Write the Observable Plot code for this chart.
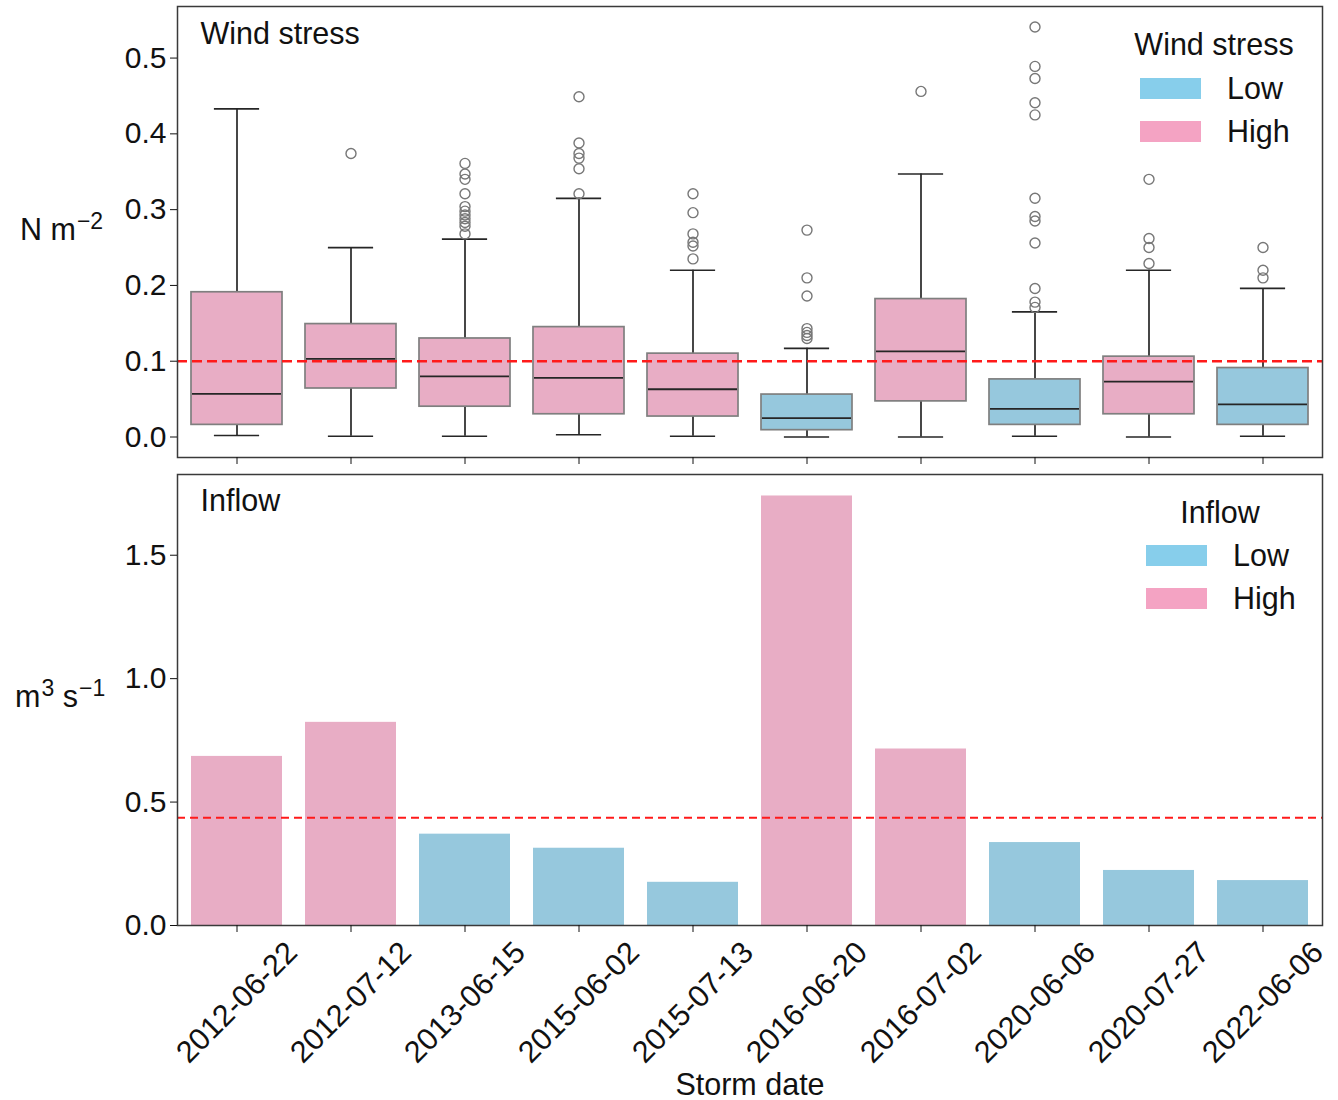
<!DOCTYPE html>
<html>
<head>
<meta charset="utf-8">
<script src="https://cdn.jsdelivr.net/npm/d3@7"></script>
<script src="https://cdn.jsdelivr.net/npm/@observablehq/plot@0.6"></script>
<style>
  body { margin: 0; background: #fff; }
  #chart { width: 1338px; height: 1100px; font-family: "Liberation Sans", Arial, sans-serif; }
  #chart svg { display: block; }
</style>
</head>
<body>
<div id="chart"></div>
<script>
// Storm events (categorical x axis)
const stormDates = ["2012-06-22", "2012-07-12", "2013-06-15", "2015-06-02", "2015-07-13",
                    "2016-06-20", "2016-07-02", "2020-06-06", "2020-07-27", "2022-06-06"];

// Wind stress box statistics per storm (N m^-2)
const windLevel       = ["High", "High", "High", "High", "High", "Low", "High", "Low", "High", "Low"];
const windLowWhisker  = [0.002, 0.001, 0.001, 0.003, 0.001, 0.000, 0.000, 0.001, 0.000, 0.001];
const windQ1          = [0.016, 0.064, 0.040, 0.030, 0.027, 0.009, 0.047, 0.016, 0.030, 0.016];
const windMedian      = [0.057, 0.103, 0.080, 0.078, 0.063, 0.025, 0.113, 0.037, 0.073, 0.043];
const windQ3          = [0.191, 0.149, 0.130, 0.145, 0.110, 0.056, 0.182, 0.076, 0.106, 0.091];
const windHighWhisker = [0.433, 0.250, 0.261, 0.315, 0.220, 0.117, 0.347, 0.165, 0.220, 0.196];
const windOutliers = [
  [],
  [0.374],
  [0.361, 0.347, 0.340, 0.321, 0.304, 0.298, 0.293, 0.288, 0.283, 0.278, 0.268],
  [0.449, 0.388, 0.374, 0.368, 0.354, 0.321],
  [0.321, 0.296, 0.268, 0.257, 0.252, 0.235],
  [0.273, 0.210, 0.186, 0.143, 0.138, 0.134, 0.130],
  [0.456],
  [0.541, 0.489, 0.473, 0.441, 0.425, 0.315, 0.291, 0.285, 0.256, 0.196, 0.178, 0.171],
  [0.340, 0.262, 0.250, 0.229],
  [0.250, 0.220, 0.210]
];
const windThreshold = 0.1;

// Mean inflow per storm (m^3 s^-1)
const inflowValues = [0.685, 0.823, 0.370, 0.313, 0.175, 1.740, 0.715, 0.336, 0.223, 0.182];
const inflowLevel  = ["High", "High", "Low", "Low", "Low", "High", "High", "Low", "Low", "Low"];
const inflowThreshold = 0.437;

// Classes and colours
const levels = ["Low", "High"];
const legendColors = ["#87CEEB", "#F4A3C3"];
const fillColors = ["#96C8DD", "#E8ADC5"];

// Tick values
const windTicks = [0, 0.1, 0.2, 0.3, 0.4, 0.5];
const inflowTicks = [0, 0.5, 1.0, 1.5];

// ---- tables built from the arrays above ----
const boxes = stormDates.map((date, i) => ({
  date, level: windLevel[i], lo: windLowWhisker[i], q1: windQ1[i],
  med: windMedian[i], q3: windQ3[i], hi: windHighWhisker[i]
}));
const outliers = stormDates.flatMap((date, i) => windOutliers[i].map(v => ({date, v})));
const inflow = stormDates.map((date, i) => ({date, v: inflowValues[i], level: inflowLevel[i]}));

const FONT = '"Liberation Sans", Arial, sans-serif';
const TEXT_SIZE = 30.5;
const SUP_SIZE = 23;
const W = 1338, ML = 177, MR = 16;
const xScale = {type: "band", domain: stormDates, paddingInner: 0.2, paddingOuter: 0.1};
const bandwidth = (W - ML - MR) / stormDates.length * 0.8;
const capInset = bandwidth / 4;
const colorScale = {domain: levels, range: fillColors};

// matplotlib-like 5% margins around the wind data
const windMax = d3.max([...windHighWhisker, ...outliers.map(d => d.v)]);
const windMin = d3.min(windLowWhisker);
const windPad = (windMax - windMin) * 0.05;

const axisStyle = {fontFamily: FONT, fontSize: "30px", color: "#111", background: "transparent", overflow: "visible"};
const lineColor = "#262626";

const topPlot = Plot.plot({
  width: W, height: 470,
  marginLeft: ML, marginRight: MR, marginTop: 6, marginBottom: 13,
  style: axisStyle,
  x: xScale,
  y: {domain: [windMin - windPad, windMax + windPad]},
  color: colorScale,
  marks: [
    Plot.ruleX(boxes, {x: "date", y1: "q3", y2: "hi", stroke: lineColor, strokeWidth: 1.7}),
    Plot.ruleX(boxes, {x: "date", y1: "lo", y2: "q1", stroke: lineColor, strokeWidth: 1.7}),
    Plot.tickY(boxes, {x: "date", y: "hi", insetLeft: capInset, insetRight: capInset, stroke: lineColor, strokeWidth: 1.7}),
    Plot.tickY(boxes, {x: "date", y: "lo", insetLeft: capInset, insetRight: capInset, stroke: lineColor, strokeWidth: 1.7}),
    Plot.barY(boxes, {x: "date", y1: "q1", y2: "q3", fill: "level", stroke: "#7f7f7f", strokeWidth: 1.7}),
    Plot.tickY(boxes, {x: "date", y: "med", stroke: lineColor, strokeWidth: 1.8, insetLeft: 1, insetRight: 1}),
    Plot.dot(outliers, {x: "date", y: "v", r: 5, stroke: "#777", strokeWidth: 1.4, fill: "none"}),
    Plot.ruleY([windThreshold], {stroke: "#ff1a1a", strokeWidth: 2.5, strokeDasharray: "10,5"}),
    Plot.frame({stroke: "#3a3a3a", strokeWidth: 1.5}),
    Plot.axisY({ticks: windTicks, tickFormat: d3.format(".1f"), tickSize: 7, tickPadding: 4, label: null}),
    Plot.axisX({tickSize: 7, tickFormat: () => "", label: null}),
    Plot.text(["Wind stress"], {frameAnchor: "top-left", dx: 23, dy: 16, lineAnchor: "top", textAnchor: "start", fontSize: TEXT_SIZE})
  ]
});

const inflowMax = d3.max(inflowValues);
const bottomPlot = Plot.plot({
  width: W, height: 630,
  marginLeft: ML, marginRight: MR, marginTop: 4, marginBottom: 175,
  style: axisStyle,
  x: xScale,
  y: {domain: [0, inflowMax * 1.05]},
  color: colorScale,
  marks: [
    Plot.barY(inflow, {x: "date", y: "v", fill: "level"}),
    Plot.ruleY([inflowThreshold], {stroke: "#ff1a1a", strokeWidth: 2, strokeDasharray: "8,5"}),
    Plot.frame({stroke: "#3a3a3a", strokeWidth: 1.5}),
    Plot.axisY({ticks: inflowTicks, tickFormat: d3.format(".1f"), tickSize: 7, tickPadding: 4, label: null}),
    Plot.axisX({tickSize: 7, tickFormat: () => "", label: null}),
    Plot.text(stormDates, {x: d => d, frameAnchor: "bottom", rotate: -45, textAnchor: "middle", lineAnchor: "middle", dy: 77, fontSize: TEXT_SIZE}),
    Plot.text(["Storm date"], {frameAnchor: "bottom", dy: 148, lineAnchor: "top", fontSize: TEXT_SIZE}),
    Plot.text(["Inflow"], {frameAnchor: "top-left", dx: 23, dy: 15, lineAnchor: "top", textAnchor: "start", fontSize: TEXT_SIZE})
  ]
});

// Units label with superscripts, drawn beside the y axis
function unitLabel(svg, parts, x, y) {
  const t = d3.select(svg).append("text")
    .attr("x", x).attr("y", y).attr("text-anchor", "start")
    .attr("font-family", FONT).attr("font-size", TEXT_SIZE).attr("fill", "#111");
  let raised = false;
  for (const [str, sup] of parts) {
    const span = t.append("tspan").text(str);
    if (sup) {
      span.attr("font-size", SUP_SIZE);
      if (!raised) { span.attr("dy", -11).attr("dx", 1); raised = true; }
    } else if (raised) {
      span.attr("dy", 11); raised = false;
    }
  }
}

// Legend placed inside the panel frame
function legend(svg, title, titleX, titleY, boxX, boxY, gap) {
  const g = d3.select(svg).append("g").attr("font-family", FONT).attr("fill", "#111")
    .attr("font-size", TEXT_SIZE);
  g.append("text").attr("x", titleX).attr("y", titleY).attr("text-anchor", "middle").text(title);
  levels.forEach((lv, i) => {
    g.append("rect").attr("x", boxX).attr("y", boxY + i * gap)
      .attr("width", 61).attr("height", 21).attr("fill", legendColors[i]);
    g.append("text").attr("x", boxX + 87).attr("y", boxY + i * gap + 21)
      .attr("text-anchor", "start").text(lv);
  });
}

unitLabel(topPlot, [["N m", false], ["\u22122", true]], 20, 240);
legend(topPlot, "Wind stress", 1214, 55, 1140, 78, 43);

unitLabel(bottomPlot, [["m", false], ["3", true], [" s", false], ["\u22121", true]], 15, 237);
legend(bottomPlot, "Inflow", 1220, 53, 1146, 75, 43);

const chart = document.getElementById("chart");
chart.append(topPlot, bottomPlot);
</script>
</body>
</html>
